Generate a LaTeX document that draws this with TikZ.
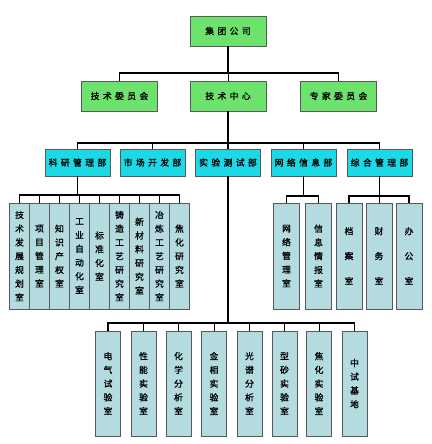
\documentclass[tikz,border=0pt]{standalone}
\usepackage{fontspec}
\newfontfamily\cjk{Noto Sans CJK SC}[FakeBold=1.2]
\newcommand\myg{\hspace{3.4pt}}
\definecolor{gbox}{HTML}{6DE36D}
\definecolor{cbox}{HTML}{1CD9E5}
\definecolor{lbox}{HTML}{B4DCE0}
\begin{document}
\begin{tikzpicture}[x=1pt,y=-1pt,
  base/.style={draw=black!65,line width=0.6pt,inner sep=0pt,align=center,font=\cjk\fontsize{8.8}{13.75}\selectfont},
  gnode/.style={base,fill=gbox,minimum width=76pt,minimum height=30pt},
  cnode/.style={base,fill=cbox,minimum width=65pt,minimum height=27pt},
  lnode/.style={base,fill=lbox,minimum width=19.5pt,minimum height=106pt},
  rnode/.style={base,fill=lbox,minimum width=26pt,minimum height=106pt},
  wide/.style={font=\cjk\fontsize{8.8}{25}\selectfont},
  bnode/.style={base,fill=lbox,minimum width=25pt,minimum height=105pt},
  trunk/.style={line width=1.8pt},
  bus/.style={line width=1.3pt},
  drop/.style={line width=0.9pt}]
\useasboundingbox (0,0) rectangle (431,444);
% level 1 and 2
\node[gnode] (jt) at (228,31) {集\myg 团\myg 公\myg 司};
\node[gnode] (jw) at (119.5,96) {技\myg 术\myg 委\myg 员\myg 会};
\node[gnode] (zx) at (228,96) {技\myg 术\myg 中\myg 心};
\node[gnode] (zj) at (338.5,96) {专\myg 家\myg 委\myg 员\myg 会};
% level 3
\node[cnode] (ky) at (77.5,162.5) {科\myg 研\myg 管\myg 理\myg 部};
\node[cnode] (sc) at (152.5,162.5) {市\myg 场\myg 开\myg 发\myg 部};
\node[cnode] (sy) at (228,162.5) {实\myg 验\myg 测\myg 试\myg 部};
\node[cnode] (wl) at (303.5,162.5) {网\myg 络\myg 信\myg 息\myg 部};
\node[cnode] (zh) at (379.5,162.5) {综\myg 合\myg 管\myg 理\myg 部};
% left rooms
\node[lnode] (l1) at (19.5,256) {技\\术\\发\\展\\规\\划\\室};
\node[lnode] (l2) at (39.5,256) {项\\目\\管\\理\\室};
\node[lnode] (l3) at (59.5,256) {知\\识\\产\\权\\室};
\node[lnode] (l4) at (79.5,256) {工\\业\\自\\动\\化\\室};
\node[lnode] (l5) at (99.5,256) {标\\准\\化\\室};
\node[lnode] (l6) at (119.5,256) {铸\\造\\工\\艺\\研\\究\\室};
\node[lnode] (l7) at (139.5,256) {新\\材\\料\\研\\究\\室};
\node[lnode] (l8) at (159.5,256) {冶\\炼\\工\\艺\\研\\究\\室};
\node[lnode] (l9) at (179.5,256) {焦\\化\\研\\究\\室};
% right rooms
\node[rnode] (r1) at (286.5,256) {网\\络\\管\\理\\室};
\node[rnode] (r2) at (318.5,256) {信\\息\\情\\报\\室};
\node[rnode,wide] (r3) at (349,256) {档\\案\\室};
\node[rnode,wide] (r4) at (379,256) {财\\务\\室};
\node[rnode,wide] (r5) at (409,256) {办\\公\\室};
% bottom labs
\node[bnode] (b1) at (108,383.5) {电\\气\\试\\验\\室};
\node[bnode] (b2) at (143.5,383.5) {性\\能\\实\\验\\室};
\node[bnode] (b3) at (178.5,383.5) {化\\学\\分\\析\\室};
\node[bnode] (b4) at (214,383.5) {金\\相\\实\\验\\室};
\node[bnode] (b5) at (249.5,383.5) {光\\谱\\分\\析\\室};
\node[bnode] (b6) at (284.5,383.5) {型\\砂\\实\\验\\室};
\node[bnode] (b7) at (319,383.5) {焦\\化\\实\\验\\室};
\node[bnode] (b8) at (354.5,383.5) {中\\试\\基\\地};
% bus coordinates
\coordinate (h1) at (228,73);
\coordinate (h2) at (228,143);
\coordinate (h3) at (77.5,195);
\coordinate (h4) at (303.5,196);
\coordinate (h5) at (379.5,196);
\coordinate (h6) at (228,323);
% connectors
\draw[trunk] (jt.south) -- (h1);
\draw[bus] (jw.north) |- (h1) -| (zj.north);
\draw[drop] (zx.north) -- (h1);
\draw[trunk] (zx.south) -- (sy.north);
\draw[bus] (ky.north) |- (h2) -| (zh.north);
\draw[drop] (sc.north) -- (sc.north |- h2);
\draw[drop] (wl.north) -- (wl.north |- h2);
\draw[trunk] (sy.south) -- (h6);
\draw[trunk] (ky.south) -- (h3);
\draw[bus] (l1.north) |- (h3) -| (l9.north);
\foreach \n in {l2,l3,l4,l5,l6,l7,l8} \draw[drop] (\n.north) -- (\n.north |- h3);
\draw[drop] (wl.south) -- (h4);
\draw[bus] (r1.north) |- (h4) -| (r2.north);
\draw[drop] (zh.south) -- (h5);
\draw[bus] (r3.north) |- (h5) -| (r5.north);
\draw[drop] (r4.north) -- (r4.north |- h5);
\draw[bus] (b1.north) |- (h6) -| (b8.north);
\foreach \n in {b2,b3,b4,b5,b6,b7} \draw[drop] (\n.north) -- (\n.north |- h6);
\end{tikzpicture}
\end{document}
